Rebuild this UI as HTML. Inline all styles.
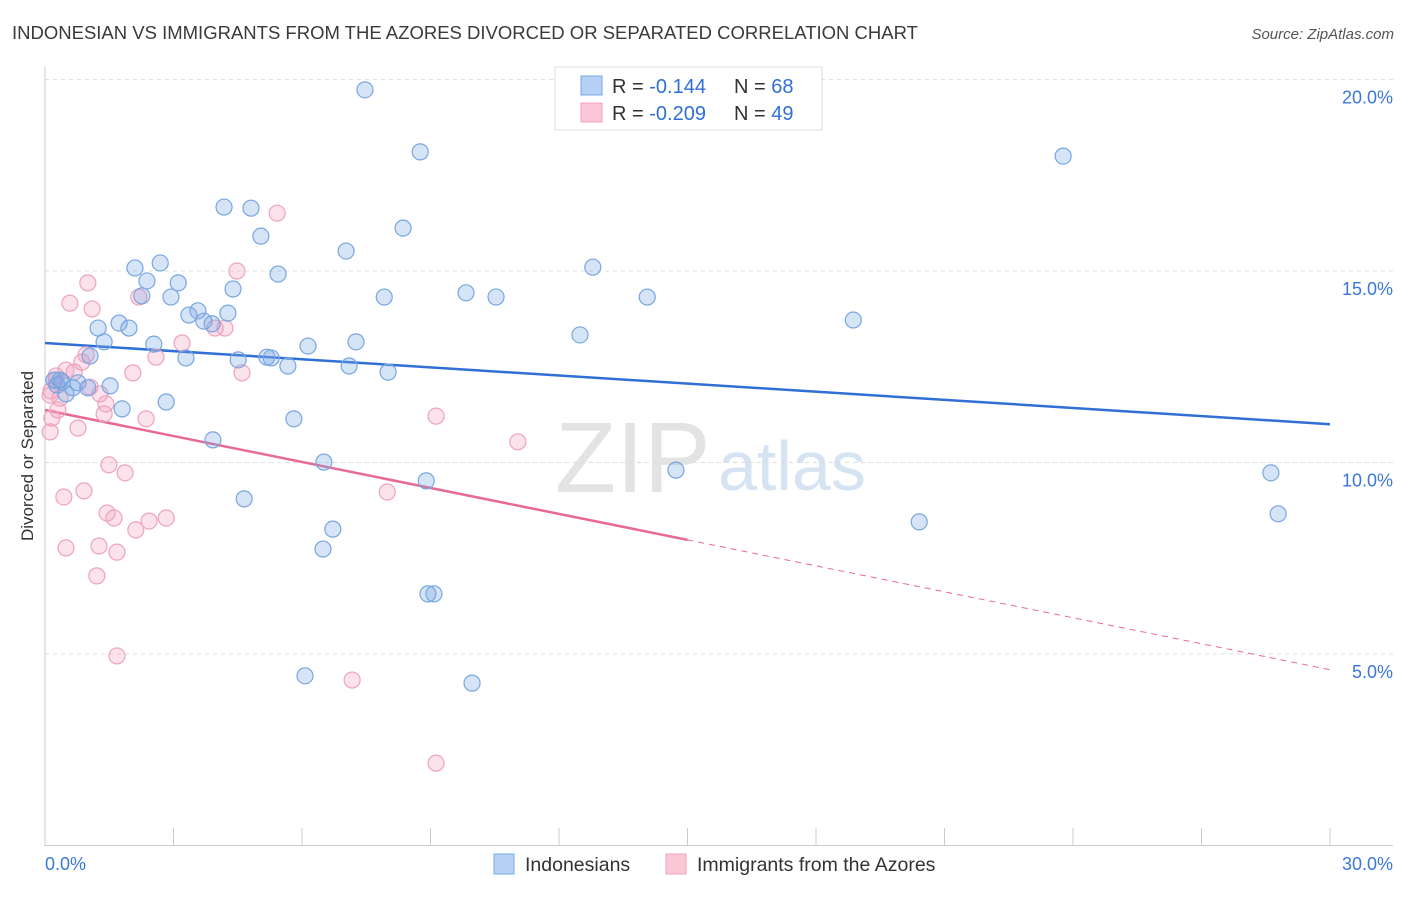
<!DOCTYPE html>
<html><head><meta charset="utf-8"><style>
body{margin:0;background:#fff;font-family:"Liberation Sans",sans-serif;}
svg text{font-family:"Liberation Sans",sans-serif;}
</style></head><body>
<svg id="chart" width="1406" height="892">
<text x="12" y="39" font-size="18.5" fill="#3a3a3a">INDONESIAN VS IMMIGRANTS FROM THE AZORES DIVORCED OR SEPARATED CORRELATION CHART</text>
<text x="1394" y="39" font-size="15" fill="#555" text-anchor="end" font-style="italic">Source: ZipAtlas.com</text>
<text x="33" y="456" font-size="17" fill="#333" text-anchor="middle" transform="rotate(-90 33 456)">Divorced or Separated</text>
<text x="555" y="492" font-size="100" fill="#e3e3e3" font-family="Liberation Serif">ZIP</text>
<text x="718" y="490" font-size="70" fill="#d6e3f3">atlas</text>
<g id="grid"></g><g id="axes"></g><g id="trends"></g><g id="pts"></g>
<g>
<rect x="555" y="67" width="267" height="63" fill="#fff" stroke="#ddd"/>
<rect x="581" y="76" width="21" height="19" fill="#b7d1f5" stroke="#7aa7e0"/>
<rect x="581" y="103" width="21" height="19" fill="#fbc6d6" stroke="#f0a0bc"/>
<text x="612" y="93" font-size="20" fill="#333">R = <tspan fill="#2f6fd6"> -0.144</tspan></text>
<text x="734" y="93" font-size="20" fill="#333">N = <tspan fill="#2f6fd6">68</tspan></text>
<text x="612" y="120" font-size="20" fill="#333">R = <tspan fill="#2f6fd6">-0.209</tspan></text>
<text x="734" y="120" font-size="20" fill="#333">N = <tspan fill="#2f6fd6">49</tspan></text>
</g>
<g>
<rect x="494" y="854" width="20" height="20" fill="#b7d1f5" stroke="#7aa7e0"/>
<text x="525" y="871" font-size="19.5" fill="#333">Indonesians</text>
<rect x="666" y="854" width="20" height="20" fill="#fbc6d6" stroke="#f0a0bc"/>
<text x="697" y="871" font-size="19.5" fill="#333">Immigrants from the Azores</text>
</g>
</svg>
<script>
const blueX=[7.47,8.76,23.77,4.18,4.81,8.36,5.04,7.03,2.69,2.10,12.79,5.44,2.38,3.11,4.39,2.26,2.94,7.92,9.83,10.53,14.06,3.57,3.36,4.27,18.87,1.73,3.71,3.90,1.24,1.96,12.49,1.38,2.54,7.26,6.14,1.05,3.29,4.51,5.18,5.28,5.67,7.10,8.01,0.21,0.40,0.77,1.52,0.49,0.65,1.00,1.80,2.83,5.81,3.92,6.51,14.73,28.62,8.90,4.65,28.79,20.41,6.72,6.49,8.94,9.08,6.07,9.97,0.28,0.35];
const blueY=[19.73,18.11,18.00,16.67,16.64,16.12,15.91,15.52,15.21,15.08,15.10,14.92,14.74,14.69,14.53,14.35,14.32,14.32,14.43,14.32,14.32,13.96,13.85,13.90,13.72,13.64,13.69,13.62,13.51,13.51,13.33,13.15,13.09,13.15,13.04,12.78,12.73,12.68,12.75,12.73,12.52,12.52,12.36,12.15,12.10,12.08,12.00,11.79,11.95,11.95,11.40,11.58,11.14,10.59,10.01,9.80,9.73,9.52,9.05,8.66,8.45,8.26,7.74,6.57,6.57,4.43,4.24,12.02,12.15];
const pinkX=[5.42,4.48,1.00,0.58,1.10,2.19,3.20,3.97,4.20,2.59,0.96,0.86,4.60,2.05,0.49,0.68,0.26,0.14,0.35,1.05,1.28,1.42,0.30,1.38,2.36,9.13,0.12,0.77,11.04,1.49,1.87,0.91,0.44,7.99,1.45,1.61,2.83,2.43,2.12,1.26,0.49,1.68,1.21,1.68,7.17,9.13,0.26,0.16,0.12];
const pinkY=[16.51,15.00,14.69,14.16,14.01,14.32,13.12,13.51,13.51,12.75,12.81,12.62,12.34,12.34,12.41,12.36,12.26,11.87,11.68,11.97,11.79,11.53,11.37,11.27,11.14,11.21,10.80,10.90,10.54,9.94,9.73,9.26,9.10,9.23,8.68,8.55,8.55,8.47,8.24,7.82,7.77,7.66,7.04,4.95,4.32,2.15,12.15,11.16,11.76];
const blueTrend=[13.12,11.0];
const pinkTrend=[11.37,-0.226];
const yTicks=[5,10,15,20];
const yTickLabels=["5.0%","10.0%","15.0%","20.0%"];
const xTickLabels=["0.0%","30.0%"];
const NS="http://www.w3.org/2000/svg";
const X=v=>45+v*1285/30, Y=v=>845.5-v*38.3;
function mk(t,a,p){const e=document.createElementNS(NS,t);for(const k in a)e.setAttribute(k,a[k]);p.appendChild(e);return e;}
const grid=document.getElementById('grid'),axes=document.getElementById('axes');
yTicks.forEach((t,i)=>{
 const l=mk('line',{x1:45,x2:1393,y1:Y(t),y2:Y(t),stroke:'#ddd','stroke-dasharray':'4,4'},grid);
 
 
 const tx=mk('text',{x:1393,y:Y(t)+24,'font-size':18,fill:'#3b78d8','text-anchor':'end'},axes);
 tx.textContent=yTickLabels[i];
 
 
});
mk('line',{x1:45,x2:45,y1:67,y2:846,stroke:'#ccc'},axes);
mk('line',{x1:45,x2:1393,y1:845.5,y2:845.5,stroke:'#ccc'},axes);
for(let i=1;i<=10;i++){mk('line',{x1:X(i*3),x2:X(i*3),y1:828,y2:846,stroke:'#ccc'},axes);}
[[0,'start',45],[30,'end',1393]].forEach((d,i)=>{const t=mk('text',{x:d[2],y:870,'font-size':18,fill:'#3b78d8','text-anchor':d[1]},axes);t.textContent=xTickLabels[i];
 
 });
const tr=document.getElementById('trends');
const bl=mk('line',{x1:X(0),y1:Y(blueTrend[0]),x2:X(30),y2:Y(blueTrend[1]),stroke:'#2f6fd6','stroke-width':2.5},tr);


const pl=mk('line',{x1:X(0),y1:Y(pinkTrend[0]),x2:X(15),y2:Y(pinkTrend[0]+pinkTrend[1]*15),stroke:'#e66a95','stroke-width':2.5},tr);


const pd=mk('line',{x1:X(15),y1:Y(pinkTrend[0]+pinkTrend[1]*15),x2:X(30),y2:Y(pinkTrend[0]+pinkTrend[1]*30),stroke:'#e66a95','stroke-width':1,'stroke-dasharray':'6,5'},tr);


const pts=document.getElementById('pts');
pinkX.forEach((x,i)=>{const c=mk('circle',{cx:X(x),cy:Y(pinkY[i]),r:8,fill:'rgba(245,160,190,0.3)',stroke:'#eea2bd','stroke-width':1.2},pts);
 
 });
blueX.forEach((x,i)=>{const c=mk('circle',{cx:X(x),cy:Y(blueY[i]),r:8,fill:'rgba(120,165,230,0.3)',stroke:'#78a6e0','stroke-width':1.2},pts);
 
 });
</script>
</body></html>
